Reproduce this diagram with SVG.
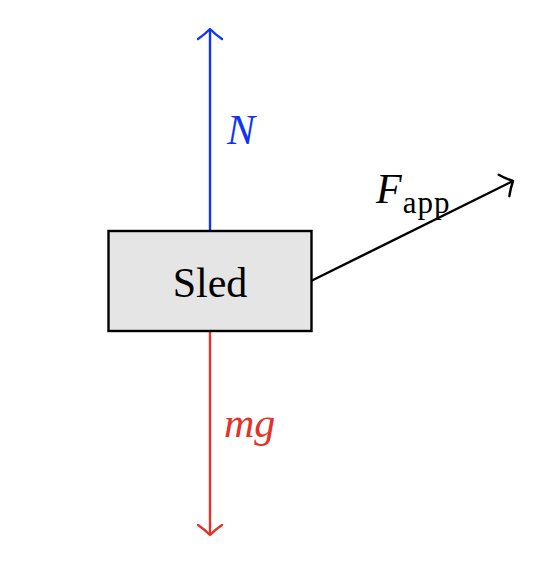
<svg xmlns="http://www.w3.org/2000/svg" width="552" height="564" viewBox="0 0 552 564">
<style>
.lbl{font-family:"Liberation Serif","DejaVu Serif",serif;}
.it{font-style:italic;}
.conn{fill:none;stroke-width:2.4;}
.head{fill:none;stroke-width:2.4;stroke-linecap:round;stroke-linejoin:round;}
</style>
<defs>
<marker id="ahB" markerUnits="userSpaceOnUse" markerWidth="30" markerHeight="30" refX="0" refY="0" viewBox="-15 -15 30 30" orient="auto" overflow="visible">
<path class="head" d="M -10 -12 C -8 -9 -3 -3 0 0 C -3 3 -8 9 -10 12" stroke="#1034f5"/>
</marker>
<marker id="ahR" markerUnits="userSpaceOnUse" markerWidth="30" markerHeight="30" refX="0" refY="0" viewBox="-15 -15 30 30" orient="auto" overflow="visible">
<path class="head" d="M -10 -12 C -8 -9 -3 -3 0 0 C -3 3 -8 9 -10 12" stroke="#e53228"/>
</marker>
<marker id="ahK" markerUnits="userSpaceOnUse" markerWidth="30" markerHeight="30" refX="0" refY="0" viewBox="-15 -15 30 30" orient="auto" overflow="visible">
<path class="head" d="M -10 -12 C -8 -9 -3 -3 0 0 C -3 3 -8 9 -10 12" stroke="#000"/>
</marker>
</defs>
<g id="connectors">
<line class="conn" x1="210" y1="231" x2="210" y2="29" stroke="#1034f5" marker-end="url(#ahB)"/>
<line class="conn" x1="210" y1="331" x2="210" y2="535" stroke="#e53228" marker-end="url(#ahR)"/>
<line class="conn" x1="311" y1="281" x2="513" y2="181" stroke="#000" marker-end="url(#ahK)"/>
<text class="lbl it" x="227" y="144" font-size="42" fill="#1034f5">N</text>
<text class="lbl it" x="224" y="437" font-size="42" fill="#e53228">mg</text>
<text class="lbl" x="376" y="203" font-size="42"><tspan class="it">F</tspan><tspan font-size="31" dx="1" dy="10" letter-spacing="1">app</tspan></text>
</g>
<g id="sled">
<rect x="108.5" y="231" width="203" height="100" fill="#e5e5e5" stroke="#000" stroke-width="2.4"/>
<text class="lbl" x="210" y="297" font-size="42" text-anchor="middle">Sled</text>
</g>
</svg>
